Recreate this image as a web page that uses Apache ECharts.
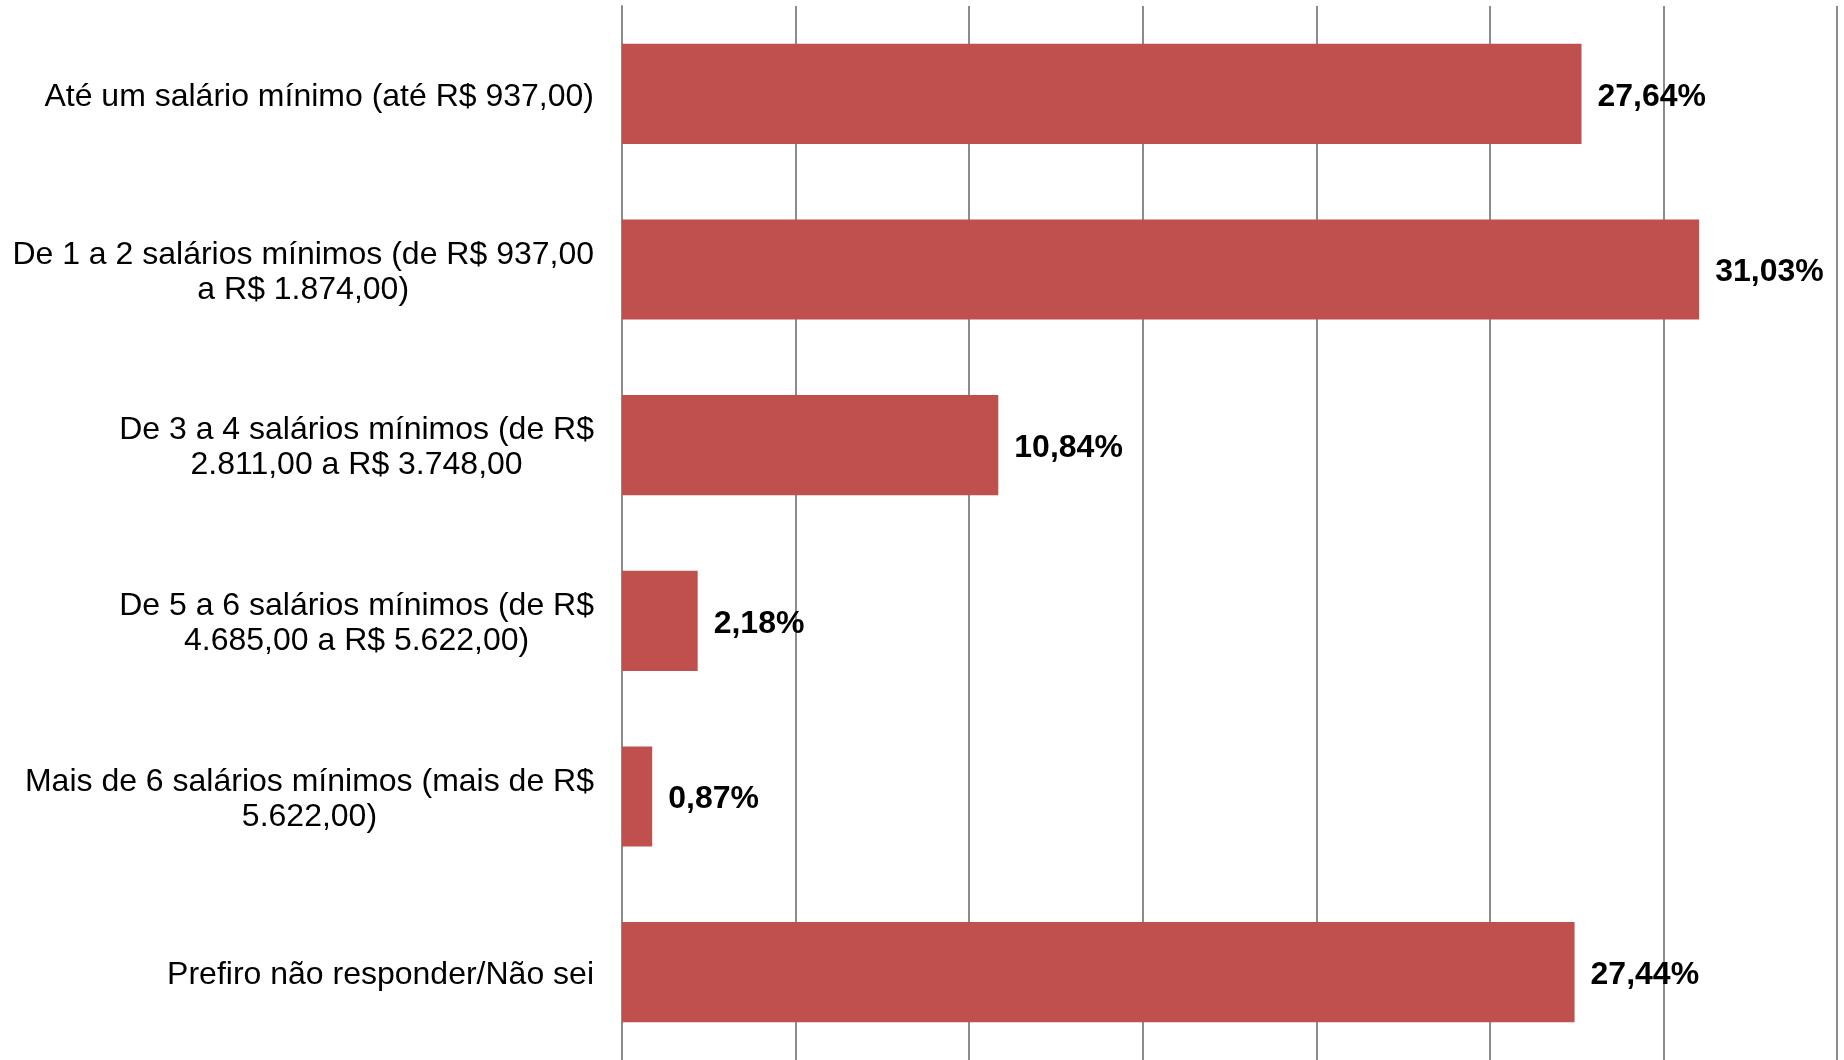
<!DOCTYPE html>
<html>
<head>
<meta charset="utf-8">
<script src="https://cdn.jsdelivr.net/npm/echarts@6/dist/echarts.min.js"></script>
<style>
  html, body { margin: 0; padding: 0; background: #fff; }
  #main { width: 1844px; height: 1060px; }
</style>
</head>
<body>
<div id="main"></div>
<script>
// faixas de renda (linhas do rótulo separadas por \n)
const categories = [
  'Até um salário mínimo (até R$ 937,00)',
  'De 1 a 2 salários mínimos (de R$ 937,00\na R$ 1.874,00)',
  'De 3 a 4 salários mínimos (de R$\n2.811,00 a R$ 3.748,00',
  'De 5 a 6 salários mínimos (de R$\n4.685,00 a R$ 5.622,00)',
  'Mais de 6 salários mínimos (mais de R$\n5.622,00)',
  'Prefiro não responder/Não sei'
]
const values = [27.64, 31.03, 10.84, 2.18, 0.87, 27.44]

const FONT = '"Liberation Sans", Arial, sans-serif'
const GRID_COLOR = '#8c8c8c'

const myChart = echarts.init(document.getElementById('main'))

const option = {
  animation: false,
  grid: { left: 622, right: 7, top: 6, height: 1062 },
  xAxis: {
    type: 'value',
    min: 0,
    max: 35,
    interval: 5,
    axisLabel: { show: false },
    axisLine: { show: false },
    axisTick: { show: false },
    splitLine: { lineStyle: { color: GRID_COLOR, width: 2 } }
  },
  yAxis: {
    type: 'category',
    inverse: true,
    data: categories,
    axisLine: { show: true, lineStyle: { color: GRID_COLOR, width: 2 } },
    axisTick: { show: false },
    axisLabel: {
      margin: 28,
      fontFamily: FONT,
      fontSize: 32,
      lineHeight: 35,
      color: '#000',
      padding: [6, 0, 0, 0],
      formatter: v => v.split('\n').map(l => '{c|' + l + '}').join('\n'),
      rich: { c: { align: 'center', fontFamily: FONT, fontSize: 32, lineHeight: 35, color: '#000' } }
    }
  },
  series: [{
    type: 'bar',
    data: values,
    barCategoryGap: '43%',
    itemStyle: { color: '#C0504D' },
    label: {
      show: true,
      position: 'right',
      distance: 16,
      offset: [0, 3],
      fontFamily: FONT,
      fontSize: 32,
      fontWeight: 'bold',
      color: '#000',
      formatter: p => p.value.toFixed(2).replace('.', ',') + '%'
    }
  }]
}

myChart.setOption(option)
</script>
</body>
</html>
